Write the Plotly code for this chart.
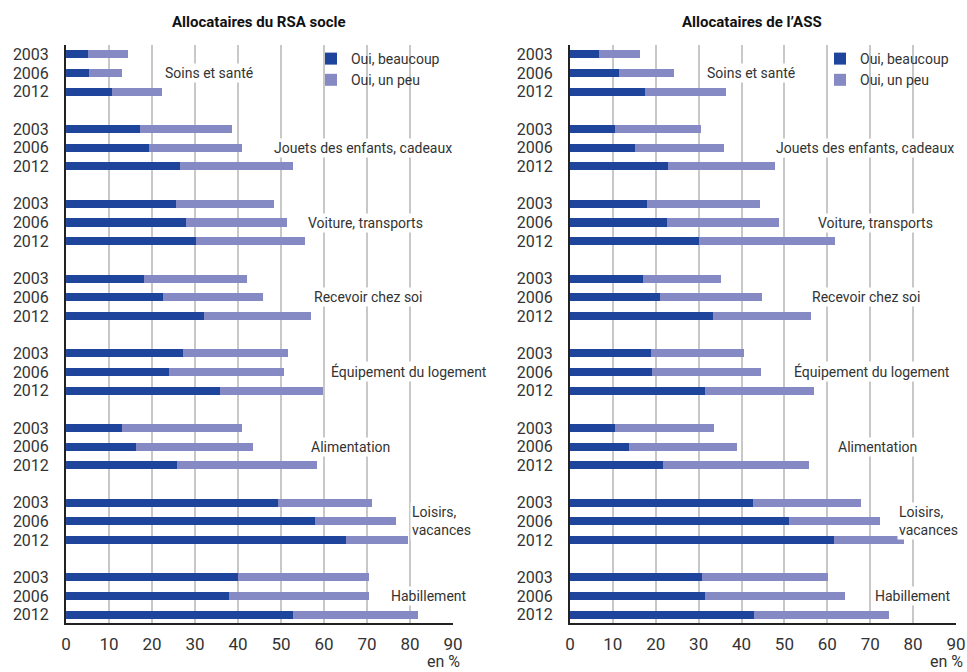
import plotly.graph_objects as go

# categories and years
categories = ["Soins et santé", "Jouets des enfants, cadeaux", "Voiture, transports",
              "Recevoir chez soi", "Équipement du logement", "Alimentation",
              "Loisirs,<br>vacances", "Habillement"]
years = ["2003", "2006", "2012"]

# RSA socle (per category: 2003, 2006, 2012)
rsa_beaucoup = [5.1, 5.4, 10.6, 17.2, 19.3, 26.6, 25.6, 28.0, 30.2,
                18.2, 22.6, 32.2, 27.3, 24.0, 35.7, 13.1, 16.3, 25.9,
                49.2, 57.8, 65.0, 40.1, 38.0, 52.9]
rsa_un_peu = [9.3, 7.6, 11.8, 21.4, 21.7, 26.1, 22.7, 23.3, 25.3,
              23.8, 23.1, 24.7, 24.4, 26.6, 24.0, 27.9, 27.3, 32.4,
              21.9, 18.9, 14.5, 30.3, 32.4, 28.9]

# ASS
ass_beaucoup = [6.8, 11.4, 17.5, 10.5, 15.2, 22.8, 17.9, 22.6, 30.1,
                17.0, 21.0, 33.3, 18.9, 19.1, 31.5, 10.5, 13.8, 21.7,
                42.7, 51.0, 61.5, 30.8, 31.5, 42.9]
ass_un_peu = [9.5, 12.8, 18.9, 20.0, 20.7, 25.0, 26.4, 26.1, 31.7,
              18.2, 23.8, 22.9, 21.7, 25.4, 25.4, 23.1, 25.1, 34.0,
              25.1, 21.3, 16.4, 29.3, 32.6, 31.5]

# x position of each category label (in %)
rsa_label_x = [22.6, 47.8, 55.7, 57.3, 61.1, 56.4, 80.0, 75.1]
ass_label_x = [31.4, 47.6, 57.3, 56.0, 51.7, 62.0, 76.3, 70.6]

DARK = "rgb(30,69,155)"
LIGHT = "rgb(133,137,196)"
FONT = "Roboto, sans-serif"
TXT = "#333333"

# one slot per bar, an empty slot between groups
pos = [g * 4 + k for g in range(len(categories)) for k in range(len(years))]
ylabels = [years[k] for g in range(len(categories)) for k in range(len(years))]

fig = go.Figure()

panels = [
    (rsa_beaucoup, rsa_un_peu, "x", "y", "legend"),
    (ass_beaucoup, ass_un_peu, "x2", "y2", "legend2"),
]
for beaucoup, un_peu, xa, ya, lg in panels:
    fig.add_trace(go.Bar(x=beaucoup, y=pos, orientation="h", name="Oui, beaucoup",
                         marker=dict(color=DARK, line=dict(width=0)), width=0.43,
                         xaxis=xa, yaxis=ya, legend=lg))
    fig.add_trace(go.Bar(x=un_peu, y=pos, orientation="h", name="Oui, un peu",
                         marker=dict(color=LIGHT, line=dict(width=0)), width=0.43,
                         xaxis=xa, yaxis=ya, legend=lg))

xaxis_style = dict(range=[0, 90], tickvals=list(range(0, 91, 10)),
                   showgrid=True, gridcolor="#c8c8c8", gridwidth=2,
                   showline=True, linecolor="#222222", linewidth=2,
                   zeroline=False, ticks="", ticklabelstandoff=5, automargin=False,
                   tickfont=dict(family=FONT, size=17, color=TXT))
yaxis_style = dict(range=[30.42, -0.5], tickvals=pos, ticktext=ylabels,
                   showgrid=False, showline=True, linecolor="#222222", linewidth=2,
                   zeroline=False, ticks="", ticklabelstandoff=12, automargin=False,
                   tickfont=dict(family=FONT, size=16, color=TXT),
                   domain=[0.0734, 0.933])

legend_style = dict(xanchor="left", yanchor="top", traceorder="normal",
                    font=dict(family=FONT, size=14, color=TXT),
                    bgcolor="rgba(0,0,0,0)", itemwidth=30, tracegroupgap=0)

fig.update_layout(
    barmode="stack",
    width=967, height=672,
    margin=dict(l=0, r=0, t=0, b=0),
    plot_bgcolor="white", paper_bgcolor="white",
    font=dict(family=FONT, color=TXT),
    xaxis=dict(xaxis_style, domain=[0.0683, 0.4685], anchor="y"),
    yaxis=dict(yaxis_style, anchor="x"),
    xaxis2=dict(xaxis_style, domain=[0.5894, 0.9886], anchor="y2"),
    yaxis2=dict(yaxis_style, anchor="x2"),
    legend=dict(legend_style, x=0.3216, y=0.936),
    legend2=dict(legend_style, x=0.848, y=0.936),
    bargap=0,
)

annotations = [
    dict(text="<b>Allocataires du RSA socle</b>", x=0.268, y=0.967, xref="paper", yref="paper",
         xanchor="center", yanchor="middle", showarrow=False,
         font=dict(family=FONT, size=15, color="#111111")),
    dict(text="<b>Allocataires de l’ASS</b>", x=0.778, y=0.967, xref="paper", yref="paper",
         xanchor="center", yanchor="middle", showarrow=False,
         font=dict(family=FONT, size=15, color="#111111")),
    dict(text="en %", x=0.478, y=0.016, xref="paper", yref="paper", xanchor="right",
         yanchor="middle", showarrow=False, font=dict(family=FONT, size=16, color=TXT)),
    dict(text="en %", x=0.998, y=0.016, xref="paper", yref="paper", xanchor="right",
         yanchor="middle", showarrow=False, font=dict(family=FONT, size=16, color=TXT)),
]
for xs, xr, yr in [(rsa_label_x, "x", "y"), (ass_label_x, "x2", "y2")]:
    for g, cat in enumerate(categories):
        annotations.append(dict(text=cat, x=xs[g], y=g * 4 + 1, xref=xr, yref=yr,
                                xanchor="left", align="left", showarrow=False,
                                bgcolor="white", borderpad=1,
                                font=dict(family=FONT, size=14, color=TXT)))
fig.update_layout(annotations=annotations)

# drop the default page margin so the figure sits at the window's corner
fig.write_html("out.html", config={"displayModeBar": False},
               post_script="document.body.style.margin='0';")
